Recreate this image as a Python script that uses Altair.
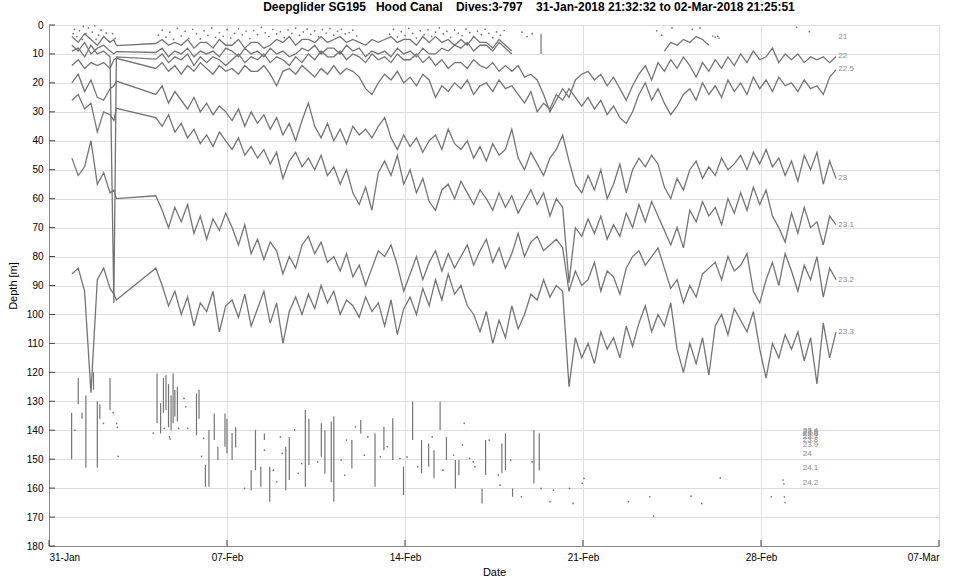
import altair as alt
import pandas as pd

NB = "\u00a0"
TITLE = ("Deepglider SG195" + NB * 3 + "Hood Canal" + NB * 4 + "Dives:3-797" + NB * 4
         + "31-Jan-2018 21:32:32 to 02-Mar-2018 21:25:51")
X_TICK_DAYS = [0, 7, 14, 21, 28, 35]
X_TICK_LABELS = ["31-Jan", "07-Feb", "14-Feb", "21-Feb", "28-Feb", "07-Mar"]
Y_TICKS = [0, 10, 20, 30, 40, 50, 60, 70, 80, 90, 100, 110, 120, 130, 140, 150, 160, 170, 180]

# days since 31-Jan-2018 00:00
EARLY_DAYS = [0.9, 1.15, 1.4, 1.65, 1.9, 2.15, 2.4, 2.55, 2.65]
MAIN_START_DAY = 4.2
MAIN_STEP_DAYS = 0.25

# isopycnal depths [m]
ISO_233_EARLY = [86, 84, 92, 127, 88, 84, 91, 93, 95]
ISO_233_MAIN = [84, 90, 97, 92, 100, 94, 104, 96, 99, 92, 106, 97, 95, 101, 93, 104,
                98, 92, 103, 96, 110, 99, 94, 100, 93, 98, 90, 96, 92, 100, 95, 97,
                101, 94, 99, 96, 104, 95, 107, 98, 94, 100, 91, 97, 88, 95, 86, 93,
                90, 97, 100, 106, 99, 110, 102, 108, 97, 105, 100, 93, 95, 88, 94, 90,
                92, 125, 108, 115, 110, 117, 106, 112, 108, 115, 104, 111, 103, 97, 106, 100,
                104, 96, 112, 120, 110, 117, 108, 121, 104, 100, 107, 98, 102, 106, 99, 112,
                122, 110, 115, 107, 112, 106, 116, 108, 124, 103, 115, 106]

ISO_232_EARLY = [46, 52, 49, 40, 55, 51, 58, 57, 60]
ISO_232_MAIN = [59, 64, 70, 63, 68, 62, 72, 66, 74, 67, 71, 65, 70, 76, 69, 79,
                74, 81, 75, 78, 86, 80, 84, 76, 73, 79, 75, 82, 80, 85, 79, 87,
                83, 90, 84, 78, 80, 76, 83, 92, 86, 80, 88, 82, 78, 85, 79, 84,
                80, 76, 83, 78, 74, 82, 77, 84, 79, 72, 80, 75, 73, 78, 76, 74,
                77, 92, 85, 90, 88, 82, 92, 85, 87, 93, 84, 80, 78, 83, 80, 77,
                84, 91, 88, 96, 90, 94, 86, 84, 82, 88, 80, 85, 83, 79, 92, 96,
                88, 82, 90, 79, 85, 92, 83, 88, 80, 94, 84, 88]

ISO_231_EARLY = [26, 24, 29, 27, 37, 30, 31, 33, 28.8]
ISO_231_MAIN = [32, 35, 31, 37, 34, 39, 36, 41, 38, 42, 37, 40, 43, 39, 45, 42,
                46, 43, 48, 44, 53, 47, 44, 49, 46, 50, 45, 52, 49, 55, 50, 58,
                62, 56, 64, 51, 47, 52, 45, 55, 50, 58, 53, 61, 64, 57, 55, 60,
                54, 58, 62, 57, 60, 64, 58, 63, 59, 65, 61, 57, 62, 58, 66, 60,
                63, 89, 70, 73, 67, 72, 66, 74, 69, 73, 65, 70, 62, 68, 61, 66,
                71, 76, 70, 77, 64, 68, 61, 66, 63, 69, 60, 65, 58, 64, 56, 62,
                57, 66, 70, 75, 65, 72, 63, 70, 68, 76, 66, 69]

ISO_230_EARLY = [20, 17, 23, 19, 25, 26, 22, 21, 19.4]
ISO_230_MAIN = [24, 21, 27, 23, 26, 29, 25, 30, 27, 31, 28, 30, 33, 29, 35, 30,
                34, 31, 36, 32, 38, 34, 40, 33, 27, 35, 39, 34, 40, 36, 41, 35,
                38, 36, 39, 35, 32, 39, 43, 38, 42, 39, 44, 40, 38, 43, 36, 41,
                43, 40, 46, 42, 47, 41, 45, 43, 36, 46, 50, 44, 48, 52, 46, 43,
                38, 47, 55, 58, 52, 57, 50, 60, 55, 48, 58, 50, 46, 49, 45, 48,
                56, 60, 53, 57, 50, 47, 53, 49, 52, 46, 50, 48, 45, 50, 44, 48,
                43, 49, 46, 52, 47, 54, 45, 50, 44, 55, 47, 53]

ISO_225_EARLY = [14, 12, 15, 13, 14, 13, 15, 12, 11.5]
ISO_225_MAIN = [15, 13, 16, 14, 17, 14, 16, 13, 15, 17, 14, 16, 15, 17, 14, 16,
                16, 14, 17, 21, 16, 15, 17, 14, 16, 18, 15, 17, 14, 17, 15, 16,
                18, 22, 24, 20, 17, 19, 16, 20, 18, 21, 17, 19, 25, 21, 23, 20,
                22, 19, 24, 21, 20, 23, 19, 22, 21, 24, 27, 23, 30, 27, 29, 24,
                26, 22, 25, 28, 25, 29, 26, 31, 28, 32, 34, 30, 24, 20, 26, 22,
                27, 31, 28, 24, 22, 26, 20, 24, 21, 25, 19, 23, 20, 24, 18, 22,
                19, 23, 18, 21, 20, 23, 19, 22, 21, 24, 18, 15.5]

ISO_220_EARLY = [9, 8, 11, 7, 10, 9, 11, 96, 11]
ISO_220_MAIN = [11.8, 10, 13, 11, 12, 10, 14, 11, 13, 11, 12, 14, 12, 10, 13, 11,
                12, 10, 13, 11, 12, 14, 11, 13, 10, 12, 9, 11, 11, 9, 12, 10,
                11, 13, 10, 12, 11, 13, 10, 12, 12, 10, 13, 11, 14, 12, 15, 13,
                13, 15, 12, 14, 15, 13, 16, 14, 16, 14, 18, 17, 19, 24, 30, 26,
                22, 25, 19, 17, 16, 19, 17, 21, 18, 22, 26, 21, 17, 14, 19, 13,
                16, 12, 15, 11, 14, 18, 13, 16, 12, 15, 11, 14, 10, 13, 9, 12,
                11, 8, 13, 10, 12, 10, 13, 11, 12, 11, 13, 11]

ISO_218_EARLY = [7, 9, 6, 10, 8, 7, 9, 10, 9.2]
ISO_218_MAIN = [9.5, 8, 11, 9, 10, 8, 11, 9, 10, 9, 11, 8, 9, 11, 8, 10,
                9, 11, 8, 10, 9, 11, 10, 8, 9, 7, 10, 8, 8, 10, 7, 9,
                8, 11, 9, 10, 9, 11, 8, 10, 9, 11, 8, 10, 10, 8, 9, 7,
                8, 6, 9, 7, 7, 9, 6, 8, 10]

ISO_215_EARLY = [4, 6, 3, 5, 7, 4, 6, 5, 7.1]
ISO_215_MAIN = [6.4, 5, 7, 6, 7, 5, 8, 6, 6, 8, 5, 7, 7, 5, 8, 6,
                6, 8, 7, 5, 6, 4, 7, 5, 5, 6, 4, 6, 5, 4, 6, 5,
                6, 7, 5, 6, 5, 4, 6, 5, 5, 7, 4, 6, 4, 6, 5, 7,
                5, 7, 4, 6, 6, 8, 5, 7, 9, None, None, None,
                None, None, None, None, None, None, None, None, None, None, None, None,
                None, None, None, None, None, None, None, None,
                9, 6, 7, 5, 6, 4, 5, 7]

# surface (sigma 21) samples shown as dots
TOP_DOT_DAY = [0.95, 1.0, 1.1, 1.2, 1.3, 1.35, 1.45, 1.55, 1.6, 1.7, 1.8, 1.85, 1.95, 2.05, 2.15,
               2.25, 2.35, 2.5, 2.6,
               4.3, 4.45, 4.6, 4.75, 4.9, 5.05, 5.2, 5.35, 5.5, 5.65, 5.8, 5.95, 6.1, 6.25, 6.4,
               6.55, 6.7, 6.85, 7.0, 7.15, 7.3, 7.45, 7.6, 7.75, 7.9, 8.05, 8.2, 8.35, 8.5, 8.65,
               8.8, 8.95, 9.1, 9.25, 9.4, 9.55, 9.7, 9.85, 10.0, 10.15, 10.3, 10.45, 10.6, 10.75,
               10.9, 11.05, 11.2, 11.35, 11.5, 11.65, 11.8, 11.95, 12.1,
               13.4, 13.55, 13.7, 13.85, 14.0, 14.15, 14.3, 14.45, 14.6, 14.75, 14.9, 15.05, 15.2,
               15.35, 15.5, 15.65, 15.8, 15.95, 16.1, 16.25, 16.4, 16.55, 16.7, 16.85, 17.0, 17.15,
               17.3, 17.45, 17.6, 17.75, 17.9,
               18.6, 18.8, 19.0, 23.9, 24.1, 24.5, 25.3, 25.6, 26.1, 26.2, 26.3, 26.35, 29.4, 29.9]
TOP_DOT_DEPTH = [3, 1.5, 4, 2, 5, 0.5, 3, 1, 4.5, 2.5, 0.3, 5, 3.5, 1.8, 4.2,
                 2.8, 5.5, 3, 4.6,
                 3.5, 1.8, 4.2, 2.5, 5, 1.2, 3.8, 2.2, 4.6, 1.5, 3, 4.8, 2, 3.6, 1,
                 4.3, 2.6, 3.9, 1.6, 4.5, 2.9, 1.3, 3.4, 2.1, 4.7, 1.9, 3.3, 0.8, 2.7, 4,
                 1.5, 3.1, 2.3, 4.4, 1.7, 2.9, 1.1, 3.6, 2.4, 1.4, 3.2, 2, 4.1, 1.6,
                 2.8, 1.2, 3.5, 2.2, 1.5, 3, 2.6, 1.8, 3.8,
                 3.2, 1.5, 4.1, 2.3, 3.6, 1.2, 2.9, 4.5, 2, 3.4, 1.6, 3.9, 2.5,
                 1, 3.1, 2.2, 4.3, 1.7, 2.8, 3.7, 1.4, 2.6, 4, 2.1, 3.3, 1.5,
                 2.9, 4.4, 2.4, 3.6, 1.9,
                 2.5, 4, 3, 2, 3.5, 1, 1.5, 1, 3.8, 4.2, 3.9, 4.5, 0.8, 2.3]

# deep (sigma 23.4 - 24.2) fragments: vertical excursions and single samples
SEG_DAY = [0.89, 1.15, 1.3, 1.45, 1.75, 1.9, 2.0, 2.4,
           4.25, 4.39, 4.5, 4.6, 4.7, 4.8, 4.88, 4.95, 5.05, 5.8, 5.9,
           6.15, 6.29, 6.5, 6.64, 6.92, 7.0, 7.2, 7.34,
           7.95, 8.12, 8.33, 8.47, 8.68, 9.31, 9.45, 10.08, 10.22, 10.71, 10.85, 11.1, 11.2,
           11.91, 12.26, 12.82, 13.17, 13.52, 13.94, 14.3, 14.65, 14.93, 15.14, 15.38, 15.63,
           15.98, 16.12, 17.03, 17.17, 17.81, 17.95, 18.23, 19.07, 19.28, 19.35]
SEG_TOP = [134, 122, 134, 128, 120, 130, 131, 122,
           120.4, 130.7, 122, 121, 124, 128, 120.4, 126.1, 125, 127.3, 126,
           152, 139.9, 134.2, 145.7, 134.2, 136, 141, 139,
           153.8, 139.9, 152.6, 141.1, 152.6, 145.7, 142.3, 133, 136, 137.6, 140, 137, 135.3,
           143.4, 136.5, 141.1, 138.8, 135.9, 152.6, 130.2, 143.4, 144.6, 146.9, 130.2, 142.3,
           150.3, 150.3, 160.1, 143.4, 144.6, 141.1, 160.1, 139.9, 141.1, 3]
SEG_BOT = [150, 131, 136, 153, 126, 153, 136, 133,
           137.6, 141.1, 134, 133, 139, 140, 137.6, 135.3, 137, 141.7, 136,
           159.5, 159.5, 143.4, 150.3, 145.7, 148, 150.3, 146,
           160.7, 153.8, 159.5, 143.4, 164.7, 160.7, 157.2, 159.5, 152, 149.2, 155, 158, 164.7,
           153.2, 141.1, 159.5, 146.9, 150.3, 162.4, 143.4, 154.9, 152.6, 156.6, 139.9, 150.3,
           160.1, 155.5, 165.3, 155.5, 154.9, 153.8, 163, 158.4, 153.8, 10]

DEEP_DOT_DAY = [1.02, 2.14, 2.52, 2.66, 2.69, 2.72, 4.1, 4.53, 4.74, 4.76, 5.1, 5.31, 5.38, 5.45,
                6.0, 6.08, 7.69, 8.47, 8.82, 8.96, 9.1, 9.17, 9.66, 9.8, 9.94, 10.57, 11.49, 11.63,
                11.7, 12.05, 12.4, 12.54, 13.03, 13.31, 13.8, 14.08, 14.5, 15.07, 15.49, 15.91,
                16.26, 16.33, 16.54, 16.68, 16.75, 17.31, 17.67, 17.74, 18.16, 18.58, 19.0, 19.35,
                19.7, 19.84, 20.47, 20.61, 20.97, 21.04, 22.79, 23.63, 23.78, 25.25, 25.67, 26.4,
                28.4, 28.87, 28.9, 28.92, 28.95]
DEEP_DOT_DEPTH = [140, 137.6, 134, 137.6, 139, 149, 141, 139.4, 142.3, 143, 139.4, 129, 131.9, 139.4,
                  149, 142.8, 160.1, 146.9, 153.8, 157.8, 142.3, 148, 139.9, 154.9, 151.5, 150.9,
                  150.3, 155.5, 143.4, 138.8, 148.6, 142.3, 149.2, 145.7, 149.7, 149.2, 152.6,
                  142.3, 153.8, 148.6, 145.1, 137.6, 149.7, 150.9, 152.6, 143.4, 155.5, 159, 150.3,
                  163, 150.9, 160.1, 164.7, 160.7, 160.1, 165.3, 158.4, 156.6, 164.7, 163, 169.7,
                  162.8, 165.3, 156.5, 163, 157.2, 158.5, 163, 165]

LABEL_TEXT = ["21", "22", "22.5", "23", "23.1", "23.2", "23.3",
              "23.4", "23.5", "23.6", "23.7", "23.8", "23.9", "24", "24.1", "24.2"]
LABEL_DAY = [31.0, 31.0, 31.0, 31.0, 31.0, 31.0, 31.0,
             29.6, 29.6, 29.6, 29.6, 29.6, 29.6, 29.6, 29.6, 29.6]
LABEL_DEPTH = [4.1, 10.8, 15.3, 53, 69, 88, 106,
               140.2, 140.6, 141.2, 142.4, 143.3, 145, 148.3, 153, 158.4]

SERIES = [
    ("23.3", ISO_233_EARLY, ISO_233_MAIN),
    ("23.2", ISO_232_EARLY, ISO_232_MAIN),
    ("23.1", ISO_231_EARLY, ISO_231_MAIN),
    ("23", ISO_230_EARLY, ISO_230_MAIN),
    ("22.5", ISO_225_EARLY, ISO_225_MAIN),
    ("22", ISO_220_EARLY, ISO_220_MAIN),
    ("21.8", ISO_218_EARLY, ISO_218_MAIN),
    ("21.5", ISO_215_EARLY, ISO_215_MAIN),
]

rows = []
for name, early, main in SERIES:
    days = EARLY_DAYS + [MAIN_START_DAY + MAIN_STEP_DAYS * i for i in range(len(main))]
    vals = list(early) + list(main)
    seg = 0
    gap = False
    for d, v in zip(days, vals):
        if v is None:
            if not gap:
                seg += 1
            gap = True
            continue
        gap = False
        rows.append({"seg": f"{name}-{seg}", "day": round(d, 3), "depth": v})
lines_df = pd.DataFrame(rows)

top_dots = pd.DataFrame({"day": TOP_DOT_DAY, "depth": TOP_DOT_DEPTH})
deep_dots = pd.DataFrame({"day": DEEP_DOT_DAY, "depth": DEEP_DOT_DEPTH})
segs = pd.DataFrame({"day": SEG_DAY, "depth": SEG_TOP, "bot": SEG_BOT})
labels = pd.DataFrame({"day": LABEL_DAY, "depth": LABEL_DEPTH, "text": LABEL_TEXT})
xticks_df = pd.DataFrame({"day": X_TICK_DAYS})
yticks_df = pd.DataFrame({"depth": Y_TICKS})

GRAY = "#747474"
AXIS_COLOR = "#404040"
FONT = "Liberation Sans"

label_js = "[" + ",".join(f"'{t}'" for t in X_TICK_LABELS) + "]"
x_axis = alt.Axis(values=X_TICK_DAYS, tickCount=40, labelExpr=f"{label_js}[round(datum.value/7)]",
                  title="Date", grid=True, ticks=False, labelPadding=6, titlePadding=4,
                  labelOverlap=False, titleFontWeight="normal")
y_axis = alt.Axis(values=Y_TICKS, tickCount=40, title="Depth [m]", grid=True, ticks=False,
                  labelPadding=6, titlePadding=8, labelOverlap=False,
                  titleFontWeight="normal")
x_scale = alt.Scale(domain=[0, 35], nice=False, zero=False)
y_scale = alt.Scale(domain=[0, 180], reverse=True, nice=False, zero=False)

x_enc = alt.X("day:Q", scale=x_scale, axis=x_axis)
y_enc = alt.Y("depth:Q", scale=y_scale, axis=y_axis)

lines = alt.Chart(lines_df).mark_line(color=GRAY, strokeWidth=1.3, clip=True).encode(
    x=x_enc, y=y_enc, detail="seg:N", order="day:Q"
)
rules = alt.Chart(segs).mark_rule(color=GRAY, strokeWidth=1.2).encode(
    x=x_enc, y=y_enc, y2="bot:Q"
)
tdots = alt.Chart(top_dots).mark_circle(color=GRAY, size=3, opacity=1).encode(x=x_enc, y=y_enc)
ddots = alt.Chart(deep_dots).mark_circle(color=GRAY, size=3, opacity=1).encode(x=x_enc, y=y_enc)
texts = alt.Chart(labels).mark_text(
    align="left", baseline="middle", fontSize=8, font=FONT, color="#8c8c8c", dx=1
).encode(x=x_enc, y=y_enc, text="text:N")

# inward-pointing tick marks (MATLAB style)
xticks = alt.Chart(xticks_df).mark_rule(color=AXIS_COLOR, strokeWidth=1).encode(
    x=x_enc, y=alt.value(521), y2=alt.value(515)
)
yticks = alt.Chart(yticks_df).mark_rule(color=AXIS_COLOR, strokeWidth=1).encode(
    y=y_enc, x=alt.value(0), x2=alt.value(6)
)

chart = alt.layer(lines, rules, tdots, ddots, texts, xticks, yticks).properties(
    width=890, height=521,
    title=alt.TitleParams(TITLE, fontSize=12, fontWeight="bold", font=FONT, color="#000000",
                          anchor="middle", dx=35, offset=6),
    autosize=alt.AutoSizeParams(type="none"),
    padding={"left": 49, "top": 25, "right": 20, "bottom": 32},
).configure_axis(
    labelFont=FONT, labelFontSize=11, labelColor="#262626",
    titleFont=FONT, titleFontSize=11, titleFontWeight="normal", titleColor="#262626",
    domainColor=AXIS_COLOR, domainWidth=1, gridColor="#e6e6e6", gridWidth=1,
).configure_view(stroke="#d0d0d0", strokeWidth=1).configure(background="white")

chart.save("out.html", embed_options={"renderer": "svg", "actions": False})
